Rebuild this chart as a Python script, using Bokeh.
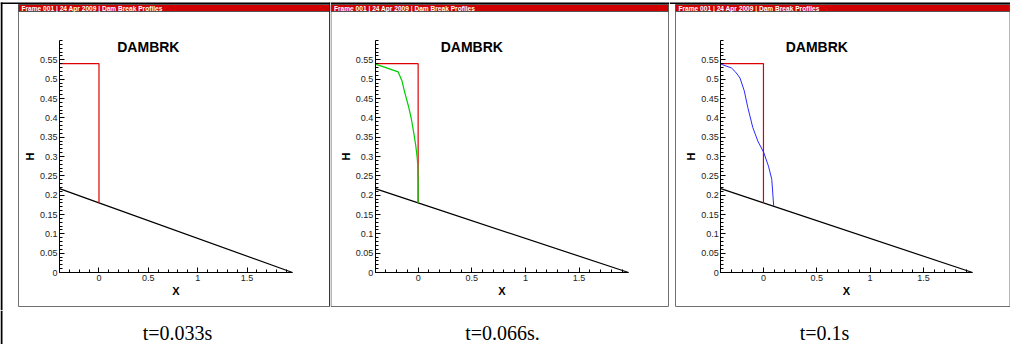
from bokeh.plotting import figure
from bokeh.models import FixedTicker, BoxAnnotation, Label, Range1d
from bokeh.layouts import column, row
from bokeh.embed import file_html
from bokeh.resources import INLINE
import numpy as np

# ---------------- data ----------------
bed_x = [-0.4, 0.0, 1.96]
bed_y = [0.217, 0.18, 0.0]

init_x = [-0.4, 0.0, 0.0]
init_y = [0.54, 0.54, 0.18]

t066_x = [-0.4, -0.3, -0.187, -0.15, -0.125, -0.09, -0.063, -0.04, -0.022, -0.01, -0.003, 0.0, 0.0]
t066_y = [0.539, 0.53, 0.519, 0.495, 0.466, 0.43, 0.397, 0.36, 0.328, 0.30, 0.276, 0.23, 0.18]

t1_x = [-0.4, -0.3, -0.26, -0.22, -0.18, -0.147, -0.1, -0.053, 0.003, 0.047, 0.078, 0.096]
t1_y = [0.539, 0.529, 0.518, 0.503, 0.47, 0.427, 0.375, 0.34, 0.31, 0.275, 0.241, 0.172]

captions = ["t=0.033s", "t=0.066s.", "t=0.1s"]
plot_title = "DAMBRK"
banner_text = "Frame 001 | 24 Apr 2009 | Dam Break Profiles"
x_label = "X"
y_label = "H"

x_ticks = [0, 0.5, 1, 1.5]
x_tick_labels = ["0", "0.5", "1", "1.5"]
y_ticks = [0, 0.05, 0.1, 0.15, 0.2, 0.25, 0.3, 0.35, 0.4, 0.45, 0.5, 0.55]
y_tick_labels = ["0", "0.05", "0.1", "0.15", "0.2", "0.25", "0.3", "0.35", "0.4", "0.45", "0.5", "0.55"]

X_MIN, X_MAX = -0.4, 1.96
Y_MIN, Y_MAX = 0.0, 0.6

RED = "#dd0000"
BANNER_RED = "#d00000"
GREEN = "#00cc00"
BLUE = "#2a2aff"
FRAME_GRAY = "#707070"

FIG_H = 310
AX_TOP, AX_BOTTOM = 40, 272   # pixel rows of the data area inside each panel figure


def make_panel(width, ax_left, ax_right, box_l, box_r, curves):
    # pixel <-> data mapping so that the data area sits where the reference has it
    sx = (X_MAX - X_MIN) / (ax_right - ax_left)
    sy = (Y_MAX - Y_MIN) / (AX_BOTTOM - AX_TOP)
    x0 = X_MIN - ax_left * sx
    x1 = x0 + width * sx
    y1 = Y_MAX + AX_TOP * sy
    y0 = y1 - FIG_H * sy

    def dx(px):
        return x0 + px * sx

    def dy(py):
        return y1 - py * sy

    def box(l, r, t, b, fill=None, line=None, lw=1):
        return BoxAnnotation(left=dx(l), right=dx(r), top=dy(t), bottom=dy(b),
                             fill_color=fill if fill else "white",
                             fill_alpha=1 if fill else 0,
                             line_color=line if line else "black",
                             line_alpha=1 if line else 0, line_width=lw,
                             level="underlay")

    p = figure(width=width, height=FIG_H, output_backend="svg", toolbar_location=None,
               x_range=Range1d(x0, x1), y_range=Range1d(y0, y1), min_border=0,
               outline_line_color=None, background_fill_color="white", border_fill_color="white")
    p.grid.visible = False

    p.xaxis.ticker = FixedTicker(ticks=x_ticks,
                                 minor_ticks=[float(v) for v in np.round(np.arange(-0.4, 1.95, 0.1), 2)])
    p.yaxis.ticker = FixedTicker(ticks=y_ticks,
                                 minor_ticks=[float(v) for v in np.round(np.arange(0, 0.601, 0.01), 2)])
    p.xaxis.major_label_overrides = dict(zip(x_ticks, x_tick_labels))
    p.yaxis.major_label_overrides = dict(zip(y_ticks, y_tick_labels))
    p.xaxis.axis_label = x_label
    p.yaxis.axis_label = y_label
    p.xaxis.fixed_location = Y_MIN
    p.yaxis.fixed_location = X_MIN
    p.xaxis.bounds = (X_MIN, X_MAX)
    p.yaxis.bounds = (Y_MIN, Y_MAX)

    for ax in (p.xaxis[0], p.yaxis[0]):
        ax.axis_line_color = "black"
        ax.axis_line_width = 1
        ax.major_tick_in = 5
        ax.major_tick_out = 0
        ax.minor_tick_in = 3
        ax.minor_tick_out = 0
        ax.major_tick_line_color = "black"
        ax.minor_tick_line_color = "black"
        ax.major_label_text_font = "Liberation Sans"
        ax.major_label_text_font_size = "9px"
        ax.major_label_text_color = "#222222"
        ax.major_label_standoff = 2
        ax.axis_label_text_font = "Liberation Sans"
        ax.axis_label_text_font_size = "11px"
        ax.axis_label_text_font_style = "bold"
        ax.axis_label_text_color = "black"
        ax.axis_label_standoff = 1

    # document table lines, tecplot frame outline and red banner
    p.add_layout(box(0, width, 2, 3.5, fill="black"))
    p.add_layout(box(box_l, box_r, 4, 306, line=FRAME_GRAY))
    p.add_layout(box(box_l, box_r, 4, 11, fill=BANNER_RED, line="#555555"))
    p.add_layout(Label(x=dx(box_l + 3), y=dy(7.5), text=banner_text,
                       text_font="Liberation Sans", text_font_size="6.6px", text_font_style="bold",
                       text_color="white", text_baseline="middle"))

    for xs, ys, color, lw in curves:
        p.line(xs, ys, line_color=color, line_width=lw)

    p.add_layout(Label(x=0.5, y=0.583, text=plot_title, text_align="center", text_baseline="middle",
                       text_font="Liberation Sans", text_font_size="14px", text_font_style="bold",
                       text_color="black"))
    return p, box


bed = (bed_x, bed_y, "black", 1.2)
init = (init_x, init_y, RED, 1.2)

p1, box1 = make_panel(330, 59, 292, 18, 329, [bed, init])
p1.add_layout(box1(0, 2, 2, FIG_H, fill="black"))
p1.add_layout(box1(329, 330.5, 2, 306, fill="black"))

p2, _ = make_panel(339, 44.7, 298, 0.5, 338, [bed, init, (t066_x, t066_y, GREEN, 1.2)])
p3, _ = make_panel(341, 51.3, 303, 6, 340.5, [bed, init, (t1_x, t1_y, BLUE, 1.0)])

CAP_W, CAP_H = 1010, 34
cap = figure(width=CAP_W, height=CAP_H, output_backend="svg", toolbar_location=None,
             x_range=Range1d(0, CAP_W), y_range=Range1d(0, CAP_H),
             x_axis_location=None, y_axis_location=None, min_border=0,
             outline_line_color=None, background_fill_color="white", border_fill_color="white")
cap.grid.visible = False
cap.add_layout(BoxAnnotation(left=0, right=2, bottom=0, top=CAP_H, fill_color="black", fill_alpha=1,
                             line_alpha=0))
for cx, txt in zip([177, 502, 824], captions):
    cap.add_layout(Label(x=cx, y=0.5, text=txt, text_align="center", text_baseline="bottom",
                         text_font="Liberation Serif", text_font_size="20px", text_color="black"))

layout = column(row(p1, p2, p3, spacing=0), cap, spacing=0)
open("out.html", "w").write(file_html(layout, INLINE))
